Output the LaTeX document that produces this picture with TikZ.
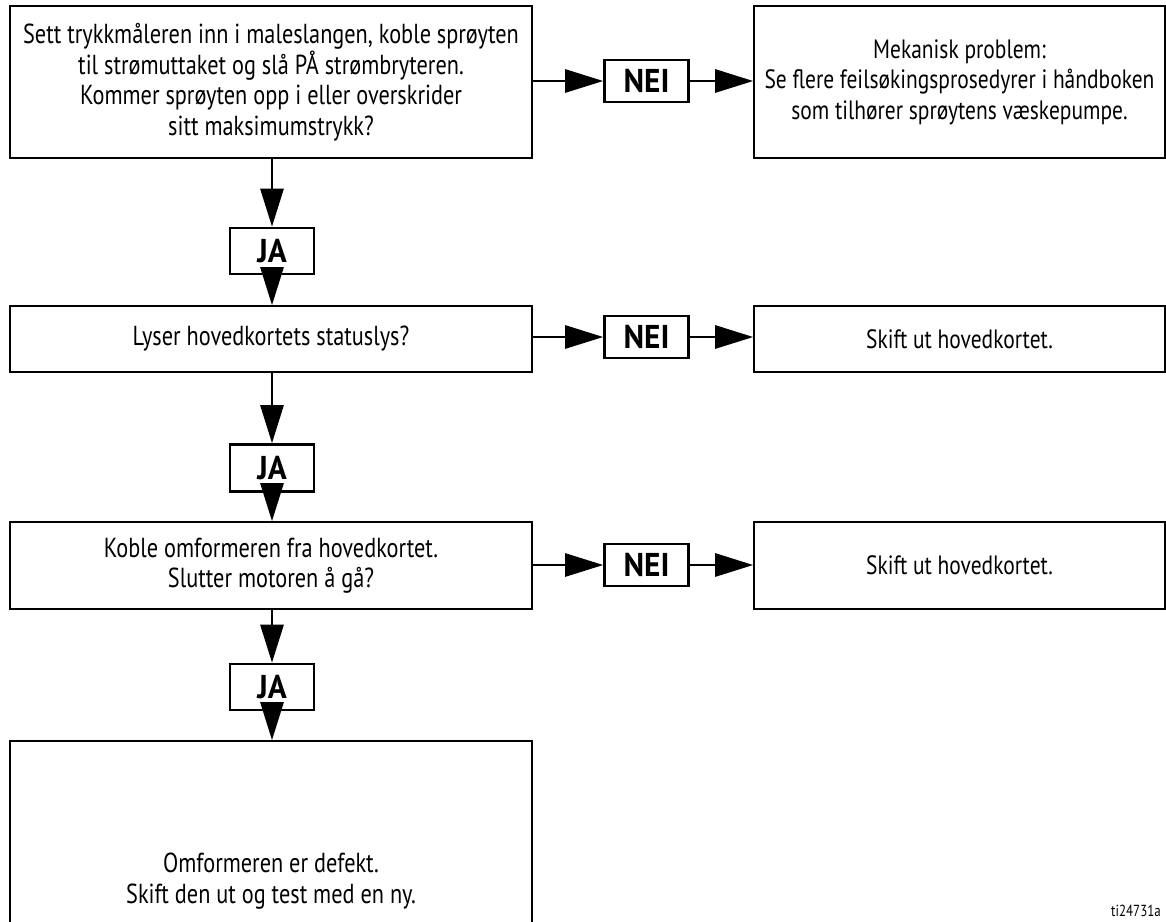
\documentclass[tikz,border=0pt]{standalone}
\usepackage{fontspec}
\setmainfont[FakeStretch=0.81]{PT Sans}
\newfontfamily\tagfont[FakeStretch=0.95]{PT Sans}
\usetikzlibrary{arrows.meta}
\begin{document}
\begin{tikzpicture}[x=1pt,y=-1pt,
  txtbox/.style={draw,line width=1.6pt,align=center,inner sep=0pt,font=\fontsize{27.5}{30.5}\selectfont},
  leftbox/.style={txtbox,minimum width=522pt},
  rightbox/.style={txtbox,minimum width=411pt,font=\fontsize{26.5}{30.5}\selectfont},
  tagbox/.style={draw,line width=2.6pt,inner sep=0pt,minimum width=84pt,font=\tagfont\fontsize{33}{36}\selectfont\bfseries},
  arr/.style={line width=2.8pt,-{Triangle[length=38pt,width=23pt]}}]
\useasboundingbox (0,0) rectangle (1166,921);
% row 1
\node[leftbox,minimum height=152pt] (b1) at (271,82) {Sett trykkmåleren inn i maleslangen, koble sprøyten\\til strømuttaket og slå PÅ strømbryteren.\\Kommer sprøyten opp i eller overskrider\\sitt maksimumstrykk?};
\node[rightbox,minimum height=152pt] (r1) at (959.5,82) {Mekanisk problem:\\Se flere feilsøkingsprosedyrer i håndboken\\som tilhører sprøytens væskepumpe.};
\node[tagbox,minimum height=42pt] (n1) at (646.5,81) {NEI};
\node[tagbox,minimum height=46pt] (j1) at (272,251) {JA};
% row 2
\node[leftbox,minimum height=66pt] (b2) at (271,339) {Lyser hovedkortets statuslys?};
\node[rightbox,minimum height=66pt] (r2) at (959.5,339) {Skift ut hovedkortet.};
\node[tagbox,minimum height=42pt] (n2) at (646.5,337) {NEI};
\node[tagbox,minimum height=47pt] (j2) at (272,468) {JA};
% row 3
\node[leftbox,minimum height=87pt] (b3) at (271,565.5) {Koble omformeren fra hovedkortet.\\Slutter motoren å gå?};
\node[rightbox,minimum height=87pt] (r3) at (959.5,565.5) {Skift ut hovedkortet.};
\node[tagbox,minimum height=42pt] (n3) at (646.5,565) {NEI};
\node[tagbox,minimum height=46pt] (j3) at (272,687) {JA};
% row 4
\node[leftbox,minimum height=200pt] (b4) at (271,841) {};
\node[align=center,inner sep=0pt,font=\fontsize{27.5}{30.5}\selectfont] (t4) at (271,881) {Omformeren er defekt.\\Skift den ut og test med en ny.};
\node[anchor=base east,inner sep=0pt,font=\fontsize{16}{18}\selectfont] (id) at (1161,916) {ti24731a};
% connectors
\draw[arr] (b1.east |- n1) -- (n1.west);
\draw[arr] (n1.east) -- (r1.west |- n1);
\draw[arr] (b2.east |- n2) -- (n2.west);
\draw[arr] (n2.east) -- (r2.west |- n2);
\draw[arr] (b3.east |- n3) -- (n3.west);
\draw[arr] (n3.east) -- (r3.west |- n3);
\draw[arr] (j1.north |- b1.south) -- (j1.north);
\draw[arr] (j1.south) -- (j1.south |- b2.north);
\draw[arr] (j2.north |- b2.south) -- (j2.north);
\draw[arr] (j2.south) -- (j2.south |- b3.north);
\draw[arr] (j3.north |- b3.south) -- (j3.north);
\draw[arr] (j3.south) -- (j3.south |- b4.north);
\end{tikzpicture}
\end{document}
